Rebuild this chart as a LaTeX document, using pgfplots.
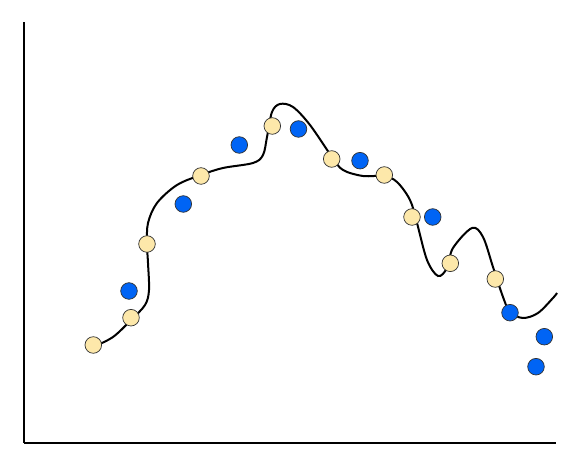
\documentclass[border=0pt]{standalone}
\usepackage{pgfplots}
\pgfplotsset{compat=1.18}
\definecolor{yfill}{RGB}{253,232,170}
\definecolor{bfill}{RGB}{0,100,245}
\definecolor{edge}{RGB}{50,50,50}
\begin{document}
\begin{tikzpicture}[x=1pt,y=1pt]
\begin{axis}[
  scale only axis, width=532pt, height=421pt,
  xmin=24, xmax=556, ymin=22, ymax=443,
  axis x line=bottom, axis y line=left,
  axis line style={line width=2.6pt, -},
  xtick=\empty, ytick=\empty,
  clip=false,
]
\addplot[only marks, mark=*, mark size=8.3pt, mark options={fill=yfill, draw=edge, line width=0.7pt}] coordinates {
(93.3,120) (131,147.3) (147,221) (201,289) (272.3,339) (331.7,306) (384.3,290) (412,248) (450.3,201.7) (495.3,186)
};
\addplot[black, line width=2pt, smooth, tension=0.55] coordinates {
(93,118) (113,128) (131,145) (145,160) (149,175) (148,202) (147,221) (148,242) (157,262) (177,280) (201,290) (223,297) (253,302) (263,310) (267,328) (272,353) (280,361) (293,358) (310,340) (332,308) (343,295) (363,289) (384,289) (397,283) (410,265) (417,242) (427,205) (438,189) (447,197) (453,217) (472,237) (483,228) (493,198) (503,168) (510,153) (523,147) (538,152) (553,167) (557,172)
};
\addplot[only marks, mark=*, mark size=8.3pt, mark options={fill=bfill, draw=edge, line width=0.7pt}] coordinates {
(129,174) (183.3,261) (239.3,320) (298.5,336) (360,304.3) (432.7,248) (510,152.3) (544.3,128.3) (536,98.3)
};
\end{axis}
\path (current axis.south west) ++(-24pt,-22pt) coordinate (bl);
\path (current axis.north east) ++(30pt,22pt) coordinate (tr);
\useasboundingbox (bl) rectangle (tr);
\end{tikzpicture}
\end{document}
